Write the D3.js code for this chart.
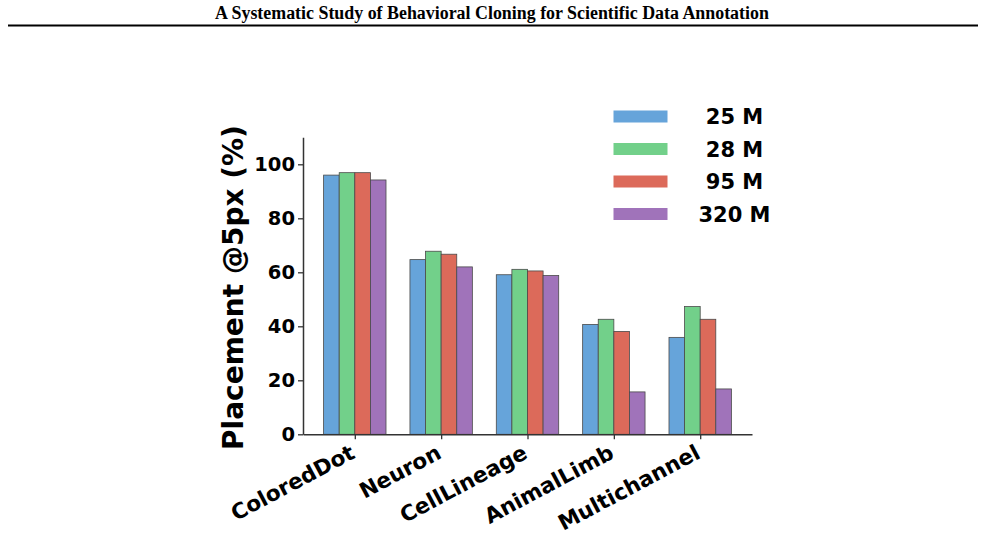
<!DOCTYPE html>
<html>
<head>
<meta charset="utf-8">
<script src="https://cdn.jsdelivr.net/npm/d3@7"></script>
<style>
  html, body { margin: 0; padding: 0; background: #fff; }
  svg { display: block; }
</style>
</head>
<body>
<script>
// ---- data ----
const title = "A Systematic Study of Behavioral Cloning for Scientific Data Annotation";
const categories = ["ColoredDot", "Neuron", "CellLineage", "AnimalLimb", "Multichannel"];
const seriesNames = ["25 M", "28 M", "95 M", "320 M"];
const values25M  = [96.0, 64.7, 59.1, 40.7, 35.9];
const values28M  = [96.9, 67.8, 61.1, 42.6, 47.3];
const values95M  = [96.9, 66.7, 60.5, 38.1, 42.6];
const values320M = [94.2, 62.0, 58.8, 15.7, 16.8];
const yTicks = [0, 20, 40, 60, 80, 100];
const yLabel = "Placement @5px (%)";
const colors = ["#66a4da", "#72d08a", "#dc6a5a", "#a073ba"];

const series = [values25M, values28M, values95M, values320M];

const W = 985, H = 557;
const svg = d3.select("body").append("svg").attr("width", W).attr("height", H);

// header
svg.append("text")
  .attr("x", 492).attr("y", 19)
  .attr("text-anchor", "middle")
  .attr("font-family", "'Liberation Serif', 'Times New Roman', serif")
  .attr("font-weight", "bold")
  .attr("font-size", 17.9)
  .text(title);
svg.append("line")
  .attr("x1", 8).attr("x2", 978).attr("y1", 25.5).attr("y2", 25.5)
  .attr("stroke", "#000").attr("stroke-width", 2);

const fontFam = "'DejaVu Sans', sans-serif";

// scales
const x = d3.scalePoint().domain(categories).range([303, 752]).padding(0.6);
const y = d3.scaleLinear().domain([0, 110]).range([434.3, 137.3]);
const barW = 15.6;

// bars
const g = svg.append("g");
series.forEach((vals, si) => {
  g.selectAll(null)
    .data(categories.map((c, i) => ({ c, v: vals[i] })))
    .enter().append("rect")
    .attr("x", d => x(d.c) - 2 * barW + si * barW)
    .attr("y", d => y(d.v))
    .attr("width", barW)
    .attr("height", d => y(0) - y(d.v))
    .attr("fill", colors[si])
    .attr("stroke", "#4a4a4a")
    .attr("stroke-width", 0.8);
});

// y axis
const yAxis = svg.append("g")
  .attr("transform", `translate(${303},0)`)
  .call(d3.axisLeft(y).tickValues(yTicks).tickSize(5).tickPadding(3).tickSizeOuter(0));
yAxis.select(".domain").attr("stroke", "#333").attr("stroke-width", 1.5);
yAxis.selectAll(".tick line").attr("stroke", "#333").attr("stroke-width", 1.3);
yAxis.selectAll(".tick text")
  .attr("font-family", fontFam).attr("font-weight", "bold")
  .attr("font-size", 19.5).attr("fill", "#000");

// x axis
const xAxis = svg.append("g")
  .attr("transform", `translate(0,${y(0)})`)
  .call(d3.axisBottom(x).tickSize(5).tickSizeOuter(0));
xAxis.select(".domain").attr("stroke", "#333").attr("stroke-width", 1.5);
xAxis.selectAll(".tick line").attr("stroke", "#333").attr("stroke-width", 1.3);
const ang = 28;
xAxis.selectAll(".tick text")
  .attr("font-family", fontFam).attr("font-weight", "bold")
  .attr("font-size", 21.5).attr("fill", "#000")
  .attr("text-anchor", "end")
  .attr("dy", null)
  .attr("y", 0)
  .attr("transform", `translate(1,23) rotate(${-ang})`);

// y label
svg.append("text")
  .attr("transform", `translate(243,287.5) rotate(-90)`)
  .attr("text-anchor", "middle")
  .attr("font-family", fontFam).attr("font-weight", "bold")
  .attr("font-size", 28)
  .text(yLabel);

// legend
const leg = svg.append("g");
seriesNames.forEach((name, i) => {
  const cy = 116.5 + i * 32.5;
  leg.append("rect")
    .attr("x", 613.5).attr("y", cy - 6).attr("width", 54).attr("height", 12)
    .attr("fill", colors[i]);
  leg.append("text")
    .attr("x", 734.5).attr("y", cy + 7.5)
    .attr("text-anchor", "middle")
    .attr("font-family", fontFam).attr("font-weight", "bold")
    .attr("font-size", 21)
    .text(name);
});
</script>
</body>
</html>
